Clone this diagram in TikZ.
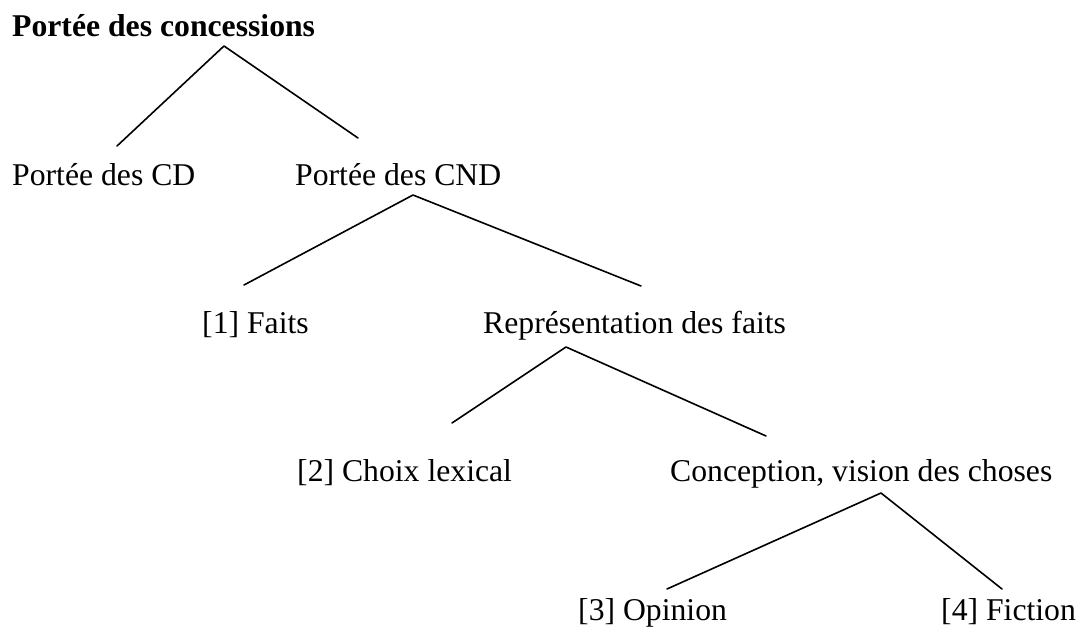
\documentclass[tikz,border=0pt]{standalone}
\usepackage{fontspec}
\setmainfont{Liberation Serif}
\begin{document}
\begin{tikzpicture}[x=1pt,y=-1pt,
  lbl/.style={anchor=base west,inner sep=0pt,font=\fontsize{31.7}{38}\selectfont},
  branch/.style={line width=1.6pt,line cap=round,line join=round}]
\useasboundingbox (0,0) rectangle (1090,632);
% texts
\node[lbl,font=\fontsize{31.7}{38}\selectfont\bfseries] (root) at (12,36) {Portée des concessions};
\node[lbl] (cd) at (12,185) {Portée des CD};
\node[lbl] (cnd) at (295,185) {Portée des CND};
\node[lbl] (faits) at (202,333) {[1] Faits};
\node[lbl] (repr) at (483,333) {Représentation des faits};
\node[lbl] (choix) at (297,481) {[2] Choix lexical};
\node[lbl] (conc) at (670,481) {Conception, vision des choses};
\node[lbl] (opin) at (578,620) {[3] Opinion};
\node[lbl] (fict) at (941,620) {[4] Fiction};
% branch points
\coordinate (a1) at (224,46);
\coordinate (a1l) at (117,146);
\coordinate (a1r) at (358,138);
\coordinate (a2) at (413,195);
\coordinate (a2l) at (244,285);
\coordinate (a2r) at (641,286);
\coordinate (a3) at (566,347);
\coordinate (a3l) at (452,423);
\coordinate (a3r) at (766,436);
\coordinate (a4) at (881,493);
\coordinate (a4l) at (667,589);
\coordinate (a4r) at (1002,589);
\draw[branch] (a1l) -- (a1) -- (a1r);
\draw[branch] (a2l) -- (a2) -- (a2r);
\draw[branch] (a3l) -- (a3) -- (a3r);
\draw[branch] (a4l) -- (a4) -- (a4r);
\end{tikzpicture}
\end{document}
